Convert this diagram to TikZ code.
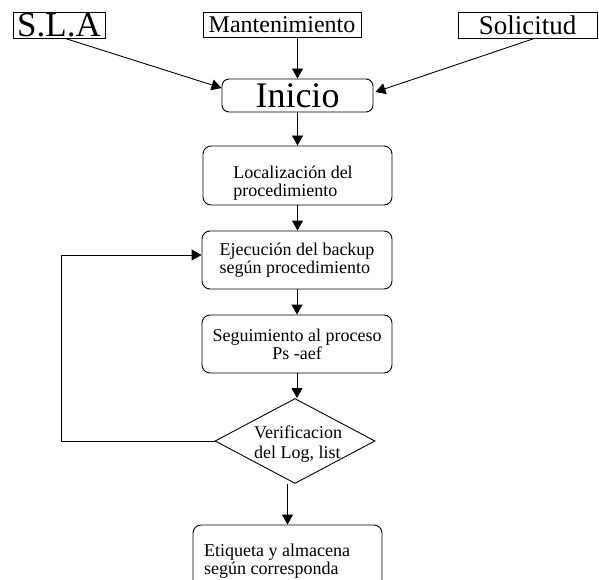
\documentclass[tikz,border=0pt]{standalone}
\usepackage{fontspec}
\setmainfont{Liberation Serif}
\usetikzlibrary{shapes.geometric,arrows.meta,calc}
\begin{document}
\begin{tikzpicture}[x=1pt,y=-1pt,
  sqbox/.style={draw, line width=0.8pt, inner sep=0pt, minimum width=#1},
  rbox/.style={draw, line width=0.9pt, rounded corners=8pt, inner sep=0pt, minimum width=190pt, minimum height=58pt, font=\fontsize{18}{18}\selectfont},
  boxtext/.style={inner sep=0pt, align=left, font=\fontsize{18}{18}\selectfont},
  conn/.style={line width=0.9pt, -{Triangle[length=10pt,width=11pt]}}
]
\useasboundingbox (0,0) rectangle (599,580);
\clip (0,0) rectangle (599,580);
% top boxes
\node[sqbox=92pt, minimum height=26pt, font=\fontsize{35}{35}\selectfont] (sla) at (59,25) {S.L.A};
\node[sqbox=158pt, minimum height=25pt, font=\fontsize{24}{24}\selectfont] (mant) at (282,24.5) {Mantenimiento};
\node[sqbox=139pt, minimum height=26pt, font=\fontsize{27}{27}\selectfont] (sol) at (527.5,25) {Solicitud};
% flow
\node[draw, line width=0.9pt, rounded corners=7pt, inner sep=0pt, minimum width=151pt, minimum height=33pt, font=\fontsize{36}{36}\selectfont] (ini) at (297.5,95.5) {Inicio};
\node[rbox, minimum width=189pt, minimum height=59pt] (loc) at (297.5,175.5) {};
\node[boxtext] (loctxt) at (293,183) {Localización del\\procedimiento};
\node[rbox, align=left] (eje) at (297,260) {Ejecución del backup\\según procedimiento};
\node[rbox, align=center] (seg) at (297,344) {Seguimiento al proceso\\Ps -aef};
\node[draw, diamond, line width=0.9pt, inner sep=0pt, minimum width=160pt, minimum height=85pt] (ver) at (295,441) {};
\node[align=left, inner sep=0pt, font=\fontsize{18}{19.5}\selectfont] (vertxt) at (298,444) {Verificacion\\del Log, list};
\node[rbox, minimum width=189pt, minimum height=64pt] (etq) at (287.5,557) {};
\node[boxtext] (etqtxt) at (277,561) {Etiqueta y almacena\\según corresponda};
% connectors
\coordinate (slaS) at ($(sla.south west)!0.565!(sla.south east)$);
\coordinate (solS) at ($(sol.south west)!0.55!(sol.south east)$);
\draw[conn] (slaS) -- ([yshift=7.5pt]ini.west);
\draw[conn] (mant.south -| ini.north) -- (ini.north);
\draw[conn] (solS) -- ([xshift=2pt,yshift=3.5pt]ini.east);
\draw[conn] (ini.south) -- (ini.south |- loc.north);
\draw[conn] (loc.south) -- (loc.south |- eje.north);
\draw[conn] (eje.south) -- (seg.north);
\draw[conn] (seg.south) -- (seg.south |- ver.north);
\draw[conn] (etq.north |- ver.south) -- (etq.north);
\coordinate (loopc) at (61,441);
\draw[conn] (ver.west) -- (loopc) |- ([yshift=5pt]eje.west);
\end{tikzpicture}
\end{document}
